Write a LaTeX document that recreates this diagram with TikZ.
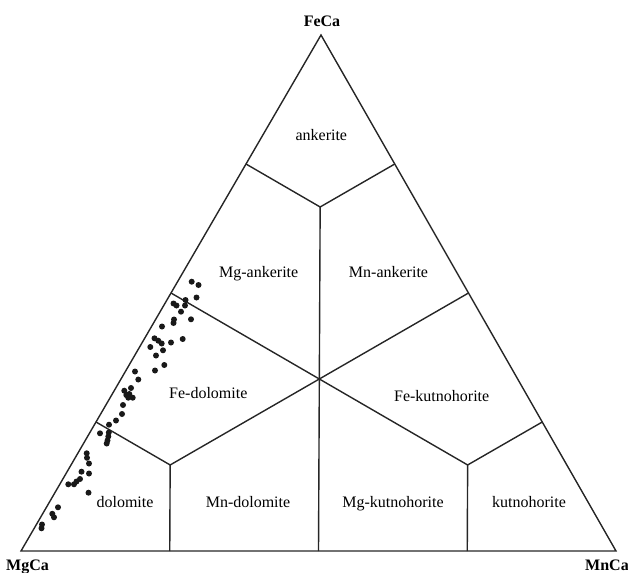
\documentclass[tikz,border=0pt]{standalone}
\usepackage{fontspec}
\setmainfont{Liberation Serif}
\usetikzlibrary{calc}
\begin{document}
\begin{tikzpicture}[x=1pt,y=-1pt,
  edge/.style={line width=1.4pt,black!85},
  field/.style={font=\fontsize{16}{18}\selectfont,anchor=base,inner sep=0pt},
  corner/.style={font=\fontsize{16}{18}\selectfont\bfseries,anchor=base,inner sep=0pt},
  pt/.style={fill=black!90,draw=none}]
\useasboundingbox (0,0) rectangle (628,572);
% vertices
\coordinate (A) at (21,551);
\coordinate (B) at (616,551);
\coordinate (C) at (321,35);
% centroid and inner points
\coordinate (G) at (barycentric cs:A=1,B=1,C=1);
\coordinate (MA) at (barycentric cs:A=4,B=1,C=1);
\coordinate (MB) at (barycentric cs:A=1,B=4,C=1);
\coordinate (MC) at (barycentric cs:A=1,B=1,C=4);
% edge points
\coordinate (AC1) at ($(A)!0.25!(C)$);
\coordinate (AC2) at ($(A)!0.5!(C)$);
\coordinate (AC3) at ($(A)!0.75!(C)$);
\coordinate (BC1) at ($(B)!0.25!(C)$);
\coordinate (BC2) at ($(B)!0.5!(C)$);
\coordinate (BC3) at ($(B)!0.75!(C)$);
\coordinate (AB1) at ($(A)!0.25!(B)$);
\coordinate (AB2) at ($(A)!0.5!(B)$);
\coordinate (AB3) at ($(A)!0.75!(B)$);
% triangle
\draw[edge,line join=miter] (A) -- (B) -- (C) -- cycle;
% field boundaries
\draw[edge] (AC3) -- (MC) -- (BC3);
\draw[edge] (MC) -- (G) -- (AB2);
\draw[edge] (AC2) -- (G) -- (BC2);
\draw[edge] (AC1) -- (MA) -- (AB1);
\draw[edge] (MA) -- (G);
\draw[edge] (BC1) -- (MB) -- (AB3);
\draw[edge] (MB) -- (G);
% labels
\node[field] (ank) at (321.3,141) {ankerite};
\node[field] (mgank) at (258.7,277) {Mg-ankerite};
\node[field] (mnank) at (388.5,277) {Mn-ankerite};
\node[field] (fedol) at (208.3,398.5) {Fe-dolomite};
\node[field] (fekut) at (441.7,401.5) {Fe-kutnohorite};
\node[field] (dol) at (125,507) {dolomite};
\node[field] (mndol) at (248,507.3) {Mn-dolomite};
\node[field] (mgkut) at (393,507.3) {Mg-kutnohorite};
\node[field] (kut) at (529,507.5) {kutnohorite};
\node[corner] (feca) at (322,26.5) {FeCa};
\node[corner] (mgca) at (27.5,570) {MgCa};
\node[corner] (mnca) at (607,570) {MnCa};
% data points
\foreach \p in {(191.7,281.7),(198.5,285),(196.5,297.5),(185.5,300),(173.5,303.5),(176.5,305.5),(185,305.5),(181,311.7),(191,319.3),(174,319.5),(173.5,323),(162,326.5),(182.7,339),(154.5,338.3),(158.3,340.7),(161.7,343.5),(171,342.5),(150.3,347),(163,350.3),(156,355.5),(164.3,365),(155,370.5),(135,371.5),(138.3,379.5),(131,388),(124.3,390.7),(126.3,395),(129.3,394),(132.7,397.7),(128.3,397.7),(123,405),(122,414),(116,420.5),(109,424.7),(100,433.3),(108.8,432.5),(108.3,436.5),(107.5,440.5),(106.7,443.5),(86.7,453.3),(87,457.8),(89,463.5),(81.5,471.7),(89,473.5),(80,479),(76.5,481.5),(74,484.3),(68.3,484.3),(88.5,492.7),(58,507.3),(52.3,513.8),(54,517.3),(42,524.5),(41.5,528.3)}
  \fill[pt] \p circle (3);
\end{tikzpicture}
\end{document}
